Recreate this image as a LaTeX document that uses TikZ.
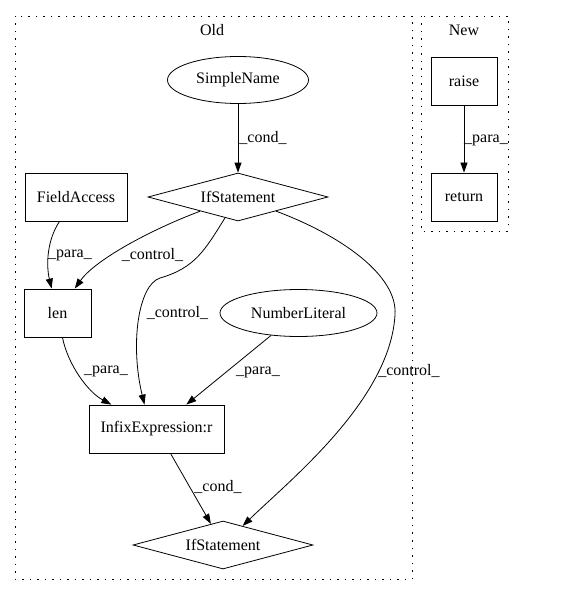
\documentclass[tikz,border=0pt]{standalone}
\usepackage{fontspec}
\setmainfont{Liberation Serif}
\usetikzlibrary{shapes.geometric,arrows.meta}

\begin{document}
\begin{tikzpicture}[x=1bp,y=-1bp,line width=0.8bp,
    >={Triangle[length=10bp,width=7bp]},
    every node/.style={font=\fontsize{16bp}{18bp}\selectfont, inner sep=0pt},
    box/.style={draw, minimum height=48bp, minimum width=#1},
    box/.default=66bp,
    oval/.style={draw, ellipse, minimum height=47bp, minimum width=#1},
    cond/.style={draw, diamond, aspect=3.75, minimum width=180bp, minimum height=48bp},
    cluster/.style={draw, dash pattern=on 1.5bp off 6bp}]
    \useasboundingbox (0,0) rectangle (569,596);

    \draw[cluster] (15,16) rectangle (412,579);
    \draw[cluster] (421,16) rectangle (508,231);
    \node (old) at (212,30) {Old};
    \node (new) at (464,30) {New};

    \node[oval=141bp] (sn) at (238,80) {SimpleName};
    \node[cond] (ifa) at (238,197) {IfStatement};
    \node[box=102bp] (fa) at (76,197) {FieldAccess};
    \node[box=67bp] (len) at (57.5,313) {len};
    \node[oval=157bp] (nl) at (298.5,313) {NumberLiteral};
    \node[box=135bp] (infix) at (156.5,429) {InfixExpression:r};
    \node[cond] (ifb) at (223,545) {IfStatement};

    \node[box] (raise) at (464,81.5) {raise};
    \node[box] (ret) at (464,197) {return};

    \draw[->] (sn) -- (ifa);
    \draw[->] (raise) -- (ret);
    \draw[->] (fa) .. controls (47,240) and (46,265) .. (len);
    \draw[->] (ifa) .. controls (150,230) and (95,260) .. (len);
    \draw[->] (ifa) .. controls (205,250) and (195,268) .. (160,278)
        .. controls (138,285) and (130,345) .. ([xshift=-12bp]infix.north);
    \draw[->] (ifa) .. controls (340,235) and (398,275) .. (395,315)
        .. controls (390,400) and (290,480) .. (ifb);
    \draw[->] (len) .. controls (68,365) and (88,392) .. (infix);
    \draw[->] (nl) -- (infix);
    \draw[->] (infix) -- (ifb);

    \node (l1) at (263,138) {\_cond\_};
    \node (l2) at (486,140) {\_para\_};
    \node (l3) at (70,255) {\_para\_};
    \node (l4) at (152.5,255) {\_control\_};
    \node (l5) at (177.5,313) {\_control\_};
    \node (l6) at (106,371) {\_para\_};
    \node (l7) at (258,372) {\_para\_};
    \node (l8) at (409,371) {\_control\_};
    \node (l9) at (218,487) {\_cond\_};

  \end{tikzpicture}
\end{document}
